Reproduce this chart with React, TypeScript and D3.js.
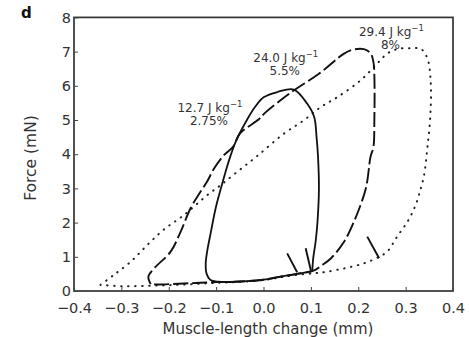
import * as d3 from 'd3';
import { useEffect, useRef } from 'react';

type Pt = [number, number];

const xTicks = [-0.4, -0.3, -0.2, -0.1, 0, 0.1, 0.2, 0.3, 0.4];
const yTicks = [0, 1, 2, 3, 4, 5, 6, 7, 8];

// 12.7 J/kg, 2.75 % (solid)
const loopSolid: Pt[] = [
  [0.103, 0.58], [0.071, 0.5], [0.036, 0.42], [0.0, 0.33], [-0.06, 0.27], [-0.095, 0.27],
  [-0.112, 0.32], [-0.12, 0.5], [-0.122, 0.8], [-0.119, 1.15], [-0.111, 1.73], [-0.101, 2.42],
  [-0.09, 3.0], [-0.08, 3.49], [-0.069, 3.98], [-0.057, 4.42], [-0.035, 5.0], [-0.018, 5.38],
  [0.001, 5.67], [0.03, 5.82], [0.064, 5.89], [0.092, 5.48], [0.107, 5.09], [0.112, 4.5],
  [0.115, 3.95], [0.117, 3.0], [0.114, 2.03], [0.11, 1.44], [0.105, 0.96], [0.103, 0.58],
];

// 24.0 J/kg, 5.5 % (dashed)
const loopDashed: Pt[] = [
  [-0.238, 0.2], [-0.243, 0.42], [-0.231, 0.66], [-0.196, 1.15], [-0.175, 1.73], [-0.154, 2.42],
  [-0.133, 2.9], [-0.119, 3.2], [-0.104, 3.59], [-0.083, 3.98], [-0.064, 4.22], [-0.05, 4.6],
  [-0.01, 5.02], [0.001, 5.18], [0.04, 5.62], [0.07, 5.92], [0.117, 6.35], [0.17, 6.94],
  [0.19, 7.06], [0.212, 7.07], [0.226, 6.95], [0.232, 6.7], [0.234, 6.3], [0.234, 5.0],
  [0.232, 4.2], [0.226, 3.93], [0.216, 3.0], [0.191, 2.03], [0.17, 1.44], [0.142, 0.95],
  [0.124, 0.76], [0.107, 0.6], [0.071, 0.5], [0.036, 0.42], [0.0, 0.33], [-0.06, 0.27],
  [-0.1, 0.26], [-0.133, 0.24], [-0.168, 0.22], [-0.224, 0.19], [-0.238, 0.2],
];

// 29.4 J/kg, 8 % (dotted)
const loopDotted: Pt[] = [
  [-0.344, 0.18], [-0.316, 0.47], [-0.28, 0.86], [-0.245, 1.35], [-0.21, 1.8], [-0.168, 2.22],
  [-0.119, 2.8], [-0.09, 3.1], [-0.055, 3.49], [-0.013, 3.95], [0.043, 4.6], [0.085, 4.99],
  [0.121, 5.38], [0.156, 5.67], [0.205, 6.16], [0.24, 6.65], [0.262, 6.95], [0.285, 7.08],
  [0.31, 7.1], [0.332, 7.08], [0.346, 6.8], [0.353, 6.1], [0.352, 5.1], [0.346, 4.2],
  [0.339, 3.39], [0.332, 3.0], [0.321, 2.51], [0.304, 2.03], [0.282, 1.59], [0.261, 1.15],
  [0.244, 1.0], [0.212, 0.81], [0.17, 0.66], [0.128, 0.55], [0.107, 0.52], [0.071, 0.47],
  [0.036, 0.4], [0.0, 0.32], [-0.06, 0.26], [-0.1, 0.24], [-0.15, 0.2], [-0.2, 0.17],
  [-0.25, 0.15], [-0.3, 0.14], [-0.344, 0.18],
];

// short stimulus artefacts near the bottom right
const spikes: Pt[][] = [
  [[0.05, 1.1], [0.071, 0.55]],
  [[0.089, 1.25], [0.1, 0.6]],
  [[0.219, 1.59], [0.244, 0.96]],
];

const energyLabels = ['12.7', '24.0', '29.4'];
const strainLabels = ['2.75%', '5.5%', '8%'];

const App = () => {
  const svgRef = useRef<SVGSVGElement>(null);

  useEffect(() => {
    const font = 'DejaVu Sans, sans-serif';
    const x = d3.scaleLinear([-0.4, 0.4], [74, 453]);
    const y = d3.scaleLinear([0, 8], [291, 17.4]);

    const svg = d3.select(svgRef.current);
    svg.selectAll('*').remove();

    const line = d3
      .line<Pt>()
      .x((d) => x(d[0]))
      .y((d) => y(d[1]))
      .curve(d3.curveCatmullRom.alpha(0.5));

    // loops
    svg.append('path')
      .attr('d', line(loopDotted))
      .attr('fill', 'none')
      .attr('stroke', '#222')
      .attr('stroke-width', 2)
      .attr('stroke-linecap', 'round')
      .attr('stroke-dasharray', '0.5,6.5');

    svg.append('path')
      .attr('d', line(loopDashed))
      .attr('fill', 'none')
      .attr('stroke', '#111')
      .attr('stroke-width', 1.9)
      .attr('stroke-dasharray', '15,4');

    svg.append('path')
      .attr('d', line(loopSolid))
      .attr('fill', 'none')
      .attr('stroke', '#111')
      .attr('stroke-width', 1.8);

    spikes.forEach((s) => {
      svg.append('path')
        .attr('d', d3.line<Pt>().x((d) => x(d[0])).y((d) => y(d[1]))(s))
        .attr('fill', 'none')
        .attr('stroke', '#111')
        .attr('stroke-width', 1.9);
    });

    // frame
    svg.append('rect')
      .attr('x', x(-0.4))
      .attr('y', y(8))
      .attr('width', x(0.4) - x(-0.4))
      .attr('height', y(0) - y(8))
      .attr('fill', 'none')
      .attr('stroke', '#333')
      .attr('stroke-width', 1.7);

    // axes
    const gx = svg.append('g')
      .attr('transform', `translate(0,${y(0)})`)
      .call(d3.axisBottom(x).tickValues(xTicks).tickFormat(d3.format('.1f')).tickSizeInner(-4).tickSizeOuter(0).tickPadding(11.5));
    const gy = svg.append('g')
      .attr('transform', `translate(${x(-0.4)},0)`)
      .call(d3.axisLeft(y).tickValues(yTicks).tickFormat(d3.format('d')).tickSizeInner(-4).tickSizeOuter(0).tickPadding(3));
    [gx, gy].forEach((g) => {
      g.select('.domain').remove();
      g.selectAll('.tick line').attr('stroke', '#444');
      g.selectAll('.tick text').attr('font-family', font).attr('font-size', 14.5).attr('fill', '#333');
    });

    // axis titles
    svg.append('text')
      .attr('x', 268)
      .attr('y', 334)
      .attr('text-anchor', 'middle')
      .attr('font-family', font)
      .attr('font-size', 15)
      .attr('fill', '#333')
      .text('Muscle-length change (mm)');

    svg.append('text')
      .attr('transform', 'translate(36,158) rotate(-90)')
      .attr('text-anchor', 'middle')
      .attr('font-family', font)
      .attr('font-size', 15.5)
      .attr('fill', '#333')
      .text('Force (mN)');

    // panel letter
    svg.append('text')
      .attr('x', 21)
      .attr('y', 18)
      .attr('font-family', font)
      .attr('font-weight', 'bold')
      .attr('font-size', 15)
      .attr('fill', '#111')
      .text('d');

    // loop annotations (anchored in data units)
    const anchors: Pt[] = [[-0.113, 5.23], [0.047, 6.7], [0.27, 7.45]];
    anchors.forEach((a, i) => {
      const t = svg.append('text')
        .attr('x', x(a[0]))
        .attr('y', y(a[1]))
        .attr('text-anchor', 'middle')
        .attr('font-family', font)
        .attr('font-size', 12)
        .attr('fill', '#333');
      t.append('tspan').text(`${energyLabels[i]} J kg`);
      t.append('tspan').attr('dy', -5).attr('font-size', 8.5).text('\u22121');
      svg.append('text')
        .attr('x', x(a[0]) - 1)
        .attr('y', y(a[1]) + 13)
        .attr('text-anchor', 'middle')
        .attr('font-family', font)
        .attr('font-size', 12)
        .attr('fill', '#333')
        .text(strainLabels[i]);
    });
  }, []);

  return (
    <svg
      ref={svgRef}
      width={469}
      height={337}
      style={{ position: 'absolute', left: 0, top: 0, background: '#fff' }}
    />
  );
};

export default App;
